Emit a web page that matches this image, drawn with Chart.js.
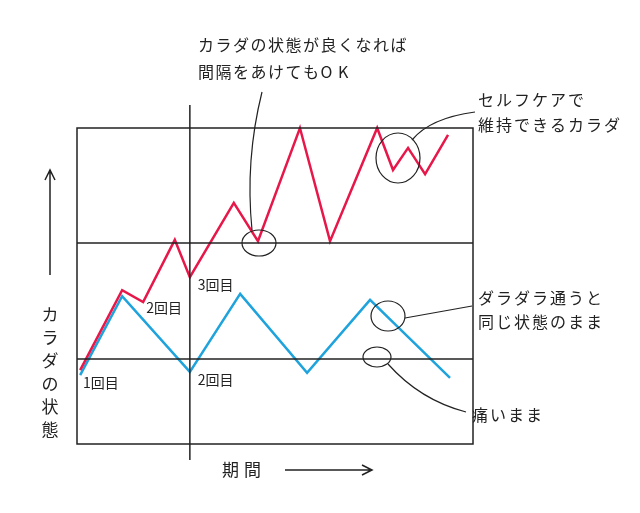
<!DOCTYPE html>
<html><head><meta charset="utf-8">
<script src="https://cdn.jsdelivr.net/npm/chart.js@4"></script>
<style>html,body{margin:0;background:#fff}#w{width:640px;height:513px}</style>
</head><body><div id="w"><canvas id="c"></canvas></div>
<script>
const redX=[0.8,11.4,16.7,24.7,28.5,39.6,45.7,56.3,63.9,75.8,79.8,83.6,87.9,93.7];
const redY=[23.4,48.7,44.9,64.6,52.8,76.3,64.2,100,64.2,100,86.7,93.7,85.4,97.8];
const blueX=[0.8,11.4,28.5,41.2,58.1,74,94.2];
const blueY=[21.8,46.8,22.8,47.5,22.5,45.6,20.9];
const gridY=[63.6,26.9];
const dividerX=28.5;
const visitLabels=[["1回目",1.5,19.5],["2回目",17.5,43],["3回目",30.5,50.5],["2回目",30.5,20.5]];
const F='"Noto Sans CJK JP", sans-serif';
const deco={id:'deco',afterDraw(ch){
 const c=ch.ctx,x=ch.scales.x,y=ch.scales.y,a=ch.chartArea;
 c.save();c.strokeStyle='#222';c.lineWidth=1.5;
 c.strokeRect(a.left,a.top,a.right-a.left,a.bottom-a.top);
 gridY.forEach(v=>{c.beginPath();c.moveTo(a.left,y.getPixelForValue(v));c.lineTo(a.right,y.getPixelForValue(v));c.stroke();});
 const dx=x.getPixelForValue(dividerX);c.beginPath();c.moveTo(dx,105);c.lineTo(dx,460);c.stroke();
 c.beginPath();c.moveTo(50,275);c.lineTo(50,170);c.moveTo(45,180);c.lineTo(50,170);c.lineTo(55,180);
 c.moveTo(285,470);c.lineTo(372,470);c.moveTo(362,465);c.lineTo(372,470);c.lineTo(362,475);c.stroke();
 c.fillStyle='#222';c.textBaseline='middle';c.textAlign='left';
 const sp=(t,px,py,step)=>{for(let i=0;i<t.length;i++)c.fillText(t[i],px+i*step,py);};
 c.font='17px '+F;
 sp('期間',222,470,22);
 c.textAlign='center';
 const yl='カラダの状態';for(let i=0;i<yl.length;i++)c.fillText(yl[i],50,315+i*23);
 c.textAlign='left';
 c.font='14px '+F;
 visitLabels.forEach(l=>c.fillText(l[0],x.getPixelForValue(l[1]),y.getPixelForValue(l[2])));
 c.font='16px '+F;
 sp('カラダの状態が良くなれば',198,45,17.5);sp('間隔をあけてもOK',198,72,17.5);
 sp('セルフケアで',478,100,18);sp('維持できるカラダ',478,125,18);
 sp('ダラダラ通うと',478,298,18);sp('同じ状態のまま',478,322,18);
 sp('痛いまま',472,415,18);
 c.lineWidth=1.2;
 const ell=(cx,cy,rx,ry)=>{c.beginPath();c.ellipse(cx,cy,rx,ry,0,0,Math.PI*2);c.stroke();};
 ell(259,243,17,13);ell(398,158,22,25);ell(388,316,17,15);ell(377,357,14,10);
 c.beginPath();c.moveTo(262,92);c.quadraticCurveTo(245,160,252,230);c.stroke();
 c.beginPath();c.moveTo(475,112);c.quadraticCurveTo(430,118,412,140);c.stroke();
 c.beginPath();c.moveTo(472,306);c.lineTo(405,318);c.stroke();
 c.beginPath();c.moveTo(466,412);c.quadraticCurveTo(420,400,388,364);c.stroke();
 c.restore();}};
new Chart(document.getElementById('c'),{type:'scatter',
 data:{datasets:[
  {data:redX.map((v,i)=>({x:v,y:redY[i]})),showLine:true,borderColor:'#e8174a',borderWidth:2.5,pointRadius:0,clip:false,tension:0},
  {data:blueX.map((v,i)=>({x:v,y:blueY[i]})),showLine:true,borderColor:'#1ea3dc',borderWidth:2.5,pointRadius:0,clip:false,tension:0}]},
 options:{responsive:true,maintainAspectRatio:false,animation:false,
  layout:{padding:{left:77,right:167,top:128,bottom:69}},
  plugins:{legend:{display:false},tooltip:{enabled:false}},
  scales:{x:{type:'linear',min:0,max:100,display:false},y:{min:0,max:100,display:false}}},
 plugins:[deco]});
</script></body></html>
